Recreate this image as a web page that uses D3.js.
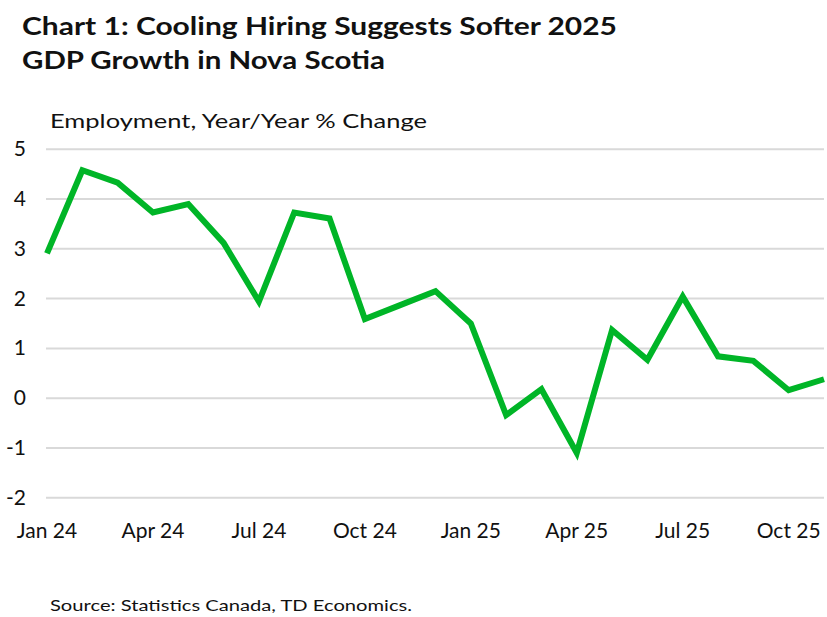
<!DOCTYPE html>
<html>
<head>
<meta charset="utf-8">
<script src="https://cdn.jsdelivr.net/npm/d3@7"></script>
<style>
  body { margin: 0; background: #fff; }
  text { font-family: Lato, "Noto Sans", sans-serif; fill: #111; }
</style>
</head>
<body>
<div class="chart"></div>
<script>
// monthly data, Jan 24 .. Nov 25
const months = ["Jan 24","Feb 24","Mar 24","Apr 24","May 24","Jun 24","Jul 24","Aug 24","Sep 24","Oct 24","Nov 24","Dec 24",
                "Jan 25","Feb 25","Mar 25","Apr 25","May 25","Jun 25","Jul 25","Aug 25","Sep 25","Oct 25","Nov 25"];
const employment = [2.91, 4.58, 4.33, 3.73, 3.90, 3.12, 1.94, 3.73, 3.61, 1.59, 1.87, 2.15,
                    1.50, -0.34, 0.18, -1.10, 1.37, 0.77, 2.04, 0.84, 0.75, 0.16, 0.38];
const xTickLabels = ["Jan 24","Apr 24","Jul 24","Oct 24","Jan 25","Apr 25","Jul 25","Oct 25"];
const yTicks = [5, 4, 3, 2, 1, 0, -1, -2];

const width = 827, height = 617;

const svg = d3.select("div.chart")
    .append("svg")
    .attr("width", width)
    .attr("height", height);

const x = d3.scalePoint()
    .domain(months)
    .range([47, 824]);

const y = d3.scaleLinear()
    .domain([-2, 5])
    .range([497.7, 149.3]);

// title
svg.append("text")
    .attr("x", 22).attr("y", 35)
    .attr("textLength", 595).attr("lengthAdjust", "spacingAndGlyphs")
    .style("font-size", "25px").style("font-weight", "bold")
    .text("Chart 1: Cooling Hiring Suggests Softer 2025");
svg.append("text")
    .attr("x", 22).attr("y", 69)
    .attr("textLength", 363).attr("lengthAdjust", "spacingAndGlyphs")
    .style("font-size", "25px").style("font-weight", "bold")
    .text("GDP Growth in Nova Scotia");

// axis title
svg.append("text")
    .attr("x", 50).attr("y", 128)
    .attr("textLength", 377).attr("lengthAdjust", "spacingAndGlyphs")
    .style("font-size", "20px")
    .text("Employment, Year/Year % Change");

// gridlines
svg.append("g")
    .selectAll("line")
    .data(yTicks)
    .enter()
    .append("line")
    .attr("x1", 46).attr("x2", 824)
    .attr("y1", d => y(d)).attr("y2", d => y(d))
    .attr("stroke", "#d9d9d9")
    .attr("stroke-width", 2);

// y labels
svg.append("g")
    .selectAll("text")
    .data(yTicks)
    .enter()
    .append("text")
    .attr("x", 26)
    .attr("y", d => y(d) + 7)
    .attr("text-anchor", "end")
    .style("font-size", "21px")
    .text(d => d);

// x labels
svg.append("g")
    .selectAll("text")
    .data(xTickLabels)
    .enter()
    .append("text")
    .attr("x", d => x(d))
    .attr("y", 538)
    .attr("text-anchor", "middle")
    .style("font-size", "21px")
    .text(d => d);

// line
const line = d3.line()
    .x((d, i) => x(months[i]))
    .y(d => y(d));

svg.append("path")
    .datum(employment)
    .attr("fill", "none")
    .attr("stroke", "#00b527")
    .attr("stroke-width", 6)
    .attr("stroke-linejoin", "miter")
    .attr("d", line);

// source
svg.append("text")
    .attr("x", 50).attr("y", 611)
    .attr("textLength", 362).attr("lengthAdjust", "spacingAndGlyphs")
    .style("font-size", "15px")
    .text("Source: Statistics Canada, TD Economics.");
</script>
</body>
</html>
